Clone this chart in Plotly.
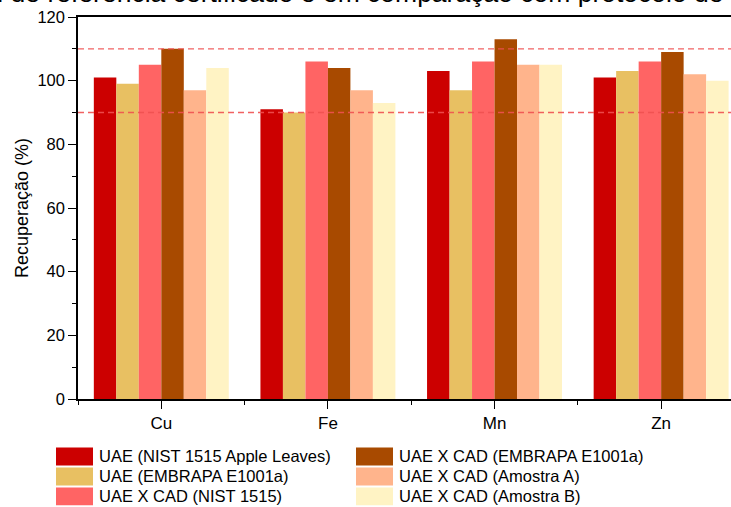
import plotly.graph_objects as go

# ---- data ----
categories = ["Cu", "Fe", "Mn", "Zn"]
series_names = [
    "UAE (NIST 1515 Apple Leaves)",
    "UAE (EMBRAPA E1001a)",
    "UAE X CAD (NIST 1515)",
    "UAE X CAD (EMBRAPA E1001a)",
    "UAE X CAD (Amostra A)",
    "UAE X CAD (Amostra B)",
]
uae_nist = [101, 91, 103, 101]
uae_embrapa = [99, 90, 97, 103]
cad_nist = [105, 106, 106, 106]
cad_embrapa = [110, 104, 113, 109]
cad_amostra_a = [97, 97, 105, 102]
cad_amostra_b = [104, 93, 105, 100]
series_values = [uae_nist, uae_embrapa, cad_nist, cad_embrapa, cad_amostra_a, cad_amostra_b]
limits = [90, 110]
y_ticks = [0, 20, 40, 60, 80, 100, 120]

colors = ["#CC0000", "#E8C062", "#FF6464", "#A84A00", "#FFB48C", "#FFF3C4"]
FONT = "Arial, Liberation Sans, sans-serif"

W, H = 731, 507
L, R, T, B = 78, 0, 17, 107.5
pw, ph = W - L - R, H - T - B


def px_x(px):
    return (px - L) / pw


def px_y(py):
    return (H - B - py) / ph


xs = list(range(len(categories)))
fig = go.Figure()
for name, vals, col in zip(series_names, series_values, colors):
    fig.add_trace(go.Bar(x=xs, y=vals, name=name, marker=dict(color=col, line=dict(width=0)),
                         showlegend=False, hoverinfo="skip"))

shapes = []
for lim in limits:
    shapes.append(dict(type="line", xref="paper", x0=0, x1=1, yref="y", y0=lim, y1=lim,
                       line=dict(color="rgba(240,80,80,0.9)", width=1.3, dash="6px,4px"),
                       layer="above"))

annotations = []
# manual legend (two columns of three)
col_x = [56, 356]
row_y = [448, 468, 488]
for i, (name, col) in enumerate(zip(series_names, colors)):
    c, r = divmod(i, 3)
    x0 = col_x[c]
    y0 = row_y[r]
    shapes.append(dict(type="rect", xref="paper", yref="paper",
                       x0=px_x(x0), x1=px_x(x0 + 37), y0=px_y(y0 + 18), y1=px_y(y0),
                       fillcolor=col, line=dict(width=0)))
    annotations.append(dict(text=name, xref="paper", yref="paper", x=px_x(x0 + 41), y=px_y(y0 + 9),
                            xanchor="left", yanchor="middle", showarrow=False,
                            font=dict(family=FONT, size=16.5, color="#000000")))

# cropped page text at the top
annotations.append(dict(text="material de referência certificado e em comparação com protocolo de",
                        xref="paper", yref="paper", x=px_x(726), y=px_y(9.5), xanchor="right",
                        yanchor="bottom", showarrow=False,
                        font=dict(family=FONT, size=26.5, color="#000000")))

fig.update_layout(
    width=W, height=H,
    margin=dict(l=L, r=R, t=T, b=B, pad=0),
    paper_bgcolor="white", plot_bgcolor="white",
    barmode="group", bargap=0.19, bargroupgap=0,
    font=dict(family=FONT, size=16, color="#000000"),
    shapes=shapes, annotations=annotations,
    xaxis=dict(range=[-0.5, (731 - 161) / 166.7], tickmode="array", tickvals=xs, ticktext=categories,
               showline=True, linecolor="#000000", linewidth=1.5, mirror=True,
               ticks="outside", ticklen=8, tickwidth=1.3, tickcolor="#000000",
               minor=dict(tickmode="linear", tick0=-0.5, dtick=1, ticks="outside", ticklen=4,
                          tickwidth=1.3, tickcolor="#000000"),
               showgrid=False, zeroline=False, tickfont=dict(size=17)),
    yaxis=dict(range=[0, 120], tickmode="array", tickvals=y_ticks,
               showline=True, linecolor="#000000", linewidth=1.5, mirror=False,
               ticks="outside", ticklen=8, tickwidth=1.3, tickcolor="#000000",
               minor=dict(tickmode="linear", tick0=10, dtick=20, ticks="outside", ticklen=4,
                          tickwidth=1.3, tickcolor="#000000"),
               showgrid=False, zeroline=False, tickfont=dict(size=16.5),
               title=dict(text="Recuperação (%)", font=dict(size=18), standoff=4)),
)

fig.write_html("out.html", config={"displayModeBar": False},
               post_script="document.body.style.margin='0';document.body.style.overflow='hidden';")
